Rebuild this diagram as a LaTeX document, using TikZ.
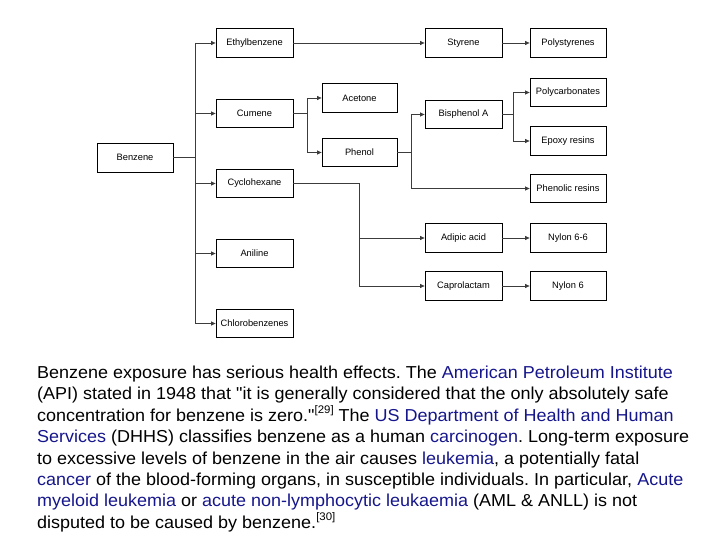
\documentclass[tikz,border=0pt]{standalone}
\usepackage{fontspec}
\setmainfont{Liberation Sans}
\newfontfamily\parafont[FakeStretch=1.04]{Liberation Sans}
\usetikzlibrary{arrows.meta}
\definecolor{linkblue}{RGB}{22,22,140}
\definecolor{lineg}{RGB}{60,60,60}
\newcommand{\lk}[1]{\textcolor{linkblue}{#1}}
\newcommand{\refsup}[1]{\raisebox{0.45em}{\fontsize{11}{11}\selectfont #1}}
\newcommand{\sq}{\symbol{34}}
\frenchspacing
\begin{document}
\begin{tikzpicture}[x=1pt,y=-1pt,
  box/.style={draw=black,line width=0.8pt,fill=white,minimum width=77pt,minimum height=28.5pt,inner sep=0pt,font=\fontsize{9.3}{10}\selectfont},
  conn/.style={draw=lineg,line width=0.75pt},
  arr/.style={conn,-{Triangle[length=4.5pt,width=4pt]}},
  para/.style={anchor=base west,inner sep=0pt,font=\parafont\fontsize{17.3}{20}\selectfont}]
\useasboundingbox (0,0) rectangle (720,540);
% column 0
\node[box,minimum width=76pt,minimum height=29pt] (ben) at (135,157.5) {Benzene};
% column 1
\node[box] (eth) at (254.5,43) {Ethylbenzene};
\node[box] (cum) at (254.5,113.5) {Cumene};
\node[box] (cyc) at (254.5,183.5) {Cyclohexane};
\node[box] (ani) at (254.5,253.5) {Aniline};
\node[box] (chl) at (254.5,323.5) {Chlorobenzenes};
% column 2
\node[box,minimum width=75pt] (ace) at (359.5,98) {Acetone};
\node[box,minimum width=75pt] (phe) at (359.5,152.5) {Phenol};
% column 3
\node[box] (sty) at (463.5,43) {Styrene};
\node[box] (bis) at (463.5,114.5) {Bisphenol A};
\node[box] (adi) at (463.5,238) {Adipic acid};
\node[box] (cap) at (463.5,286) {Caprolactam};
% column 4
\node[box,minimum width=76pt] (pst) at (568,43) {Polystyrenes};
\node[box,minimum width=76pt] (pcb) at (568,92.5) {Polycarbonates};
\node[box,minimum width=76pt] (epo) at (568,141) {Epoxy resins};
\node[box,minimum width=76pt] (phr) at (568,188.5) {Phenolic resins};
\node[box,minimum width=76pt] (n66) at (568,238) {Nylon 6-6};
\node[box,minimum width=76pt] (ny6) at (568,286) {Nylon 6};
% junctions
\coordinate (tr) at (195,157.5);
\coordinate (j1) at (307,113.5);
\coordinate (j2) at (411,152.5);
\coordinate (j3) at (513,114.5);
\coordinate (j4) at (359,183.5);
% connectors
\draw[conn] (ben.east) -- (tr);
\draw[conn] (tr |- eth.west) -- (tr |- chl.west);
\foreach \n in {eth,cum,cyc,ani,chl}{\draw[arr] (tr |- \n.west) -- (\n.west);}
\draw[arr] (eth.east) -- (sty.west);
\draw[arr] (sty.east) -- (pst.west);
\draw[conn] (cum.east) -- (j1);
\draw[arr] (j1) |- (ace.west);
\draw[arr] (j1) |- (phe.west);
\draw[conn] (phe.east) -- (j2);
\draw[arr] (j2) |- (bis.west);
\draw[arr] (j2) |- (phr.west);
\draw[conn] (bis.east) -- (j3);
\draw[arr] (j3) |- (pcb.west);
\draw[arr] (j3) |- (epo.west);
\draw[conn] (cyc.east) -- (j4);
\draw[arr] (j4) |- (adi.west);
\draw[arr] (j4) |- (cap.west);
\draw[arr] (adi.east) -- (n66.west);
\draw[arr] (cap.east) -- (ny6.west);
% paragraph
\node[para] (l1) at (37,378.3) {Benzene exposure has serious health effects. The \lk{American Petroleum Institute}};
\node[para] (l2) at (37,399.7) {(API) stated in 1948 that \sq it is generally considered that the only absolutely safe};
\node[para] (l3) at (37,421.1) {concentration for benzene is zero.\sq\refsup{[29]} The \lk{US Department of Health and Human}};
\node[para] (l4) at (37,442.6) {\lk{Services} (DHHS) classifies benzene as a human \lk{carcinogen}. Long-term exposure};
\node[para] (l5) at (37,464.0) {to excessive levels of benzene in the air causes \lk{leukemia}, a potentially fatal};
\node[para] (l6) at (37,485.4) {\lk{cancer} of the blood-forming organs, in susceptible individuals. In particular, \lk{Acute}};
\node[para] (l7) at (37,506.9) {\lk{myeloid leukemia} or \lk{acute non-lymphocytic leukaemia} (AML \& ANLL) is not};
\node[para] (l8) at (37,528.3) {disputed to be caused by benzene.\refsup{[30]}};
\end{tikzpicture}
\end{document}
